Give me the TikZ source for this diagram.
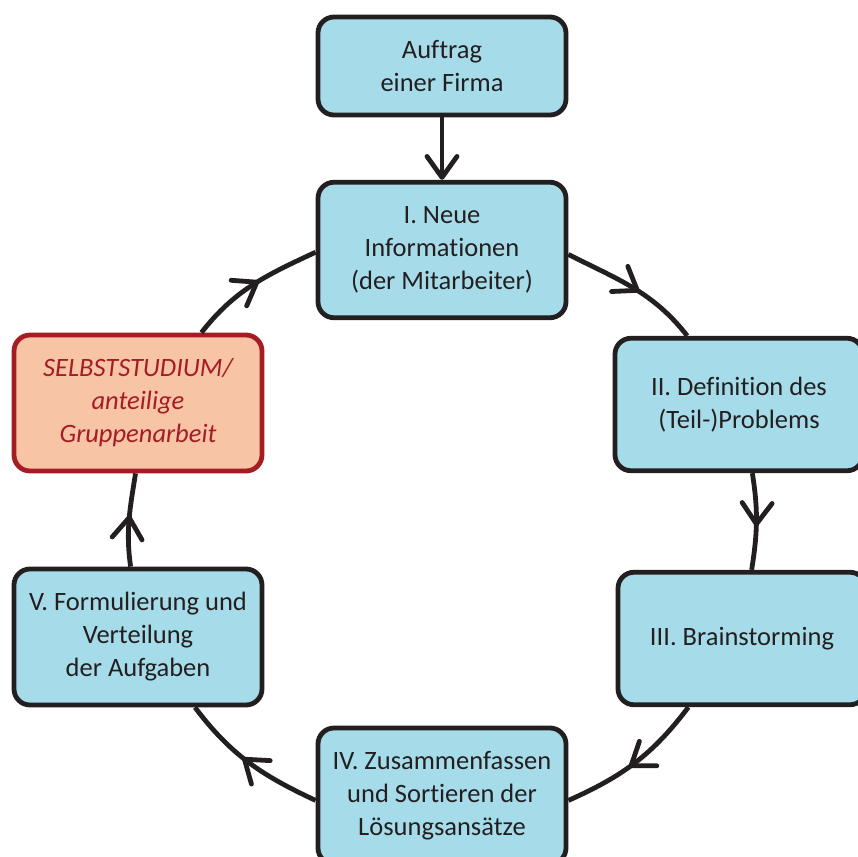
\documentclass[tikz,border=0pt]{standalone}
\usepackage{fontspec}
\setmainfont{Carlito}[Ligatures={NoCommon,NoRequired,NoContextual}]
\usetikzlibrary{arrows.meta,decorations.markings}
\definecolor{boxblue}{RGB}{166,220,233}
\definecolor{salmon}{RGB}{247,196,165}
\definecolor{darkred}{RGB}{165,28,36}
\definecolor{ink}{RGB}{35,31,32}
\tikzset{
  box/.style={draw=ink, fill=boxblue, line width=4.8pt, rounded corners=16pt,
    minimum width=248pt, minimum height=136pt, inner sep=0pt, align=center,
    text=ink, font=\fontsize{26.5}{33}\selectfont},
  redbox/.style={box, draw=darkred, fill=salmon, text=darkred,
    font=\fontsize{26.5}{33}\selectfont\itshape},
  tipv/.tip={Straight Barb[length=21pt, width=30pt, line cap=round, line join=round]},
  conn/.style={draw=ink, line width=4.8pt},
  midarrow/.style={conn, postaction={decorate},
    decoration={markings, mark=at position 0.55 with {\arrow[line width=4.8pt, ink]{tipv}}}}
}
\begin{document}
\begin{tikzpicture}[x=1pt,y=1pt]
\clip (0,0) rectangle (858,-856);
\node[box, minimum height=98pt] (A) at (442,-66) {Auftrag\\einer Firma};
\node[box, minimum height=135.5pt] (I) at (442,-250) {I. Neue\\Informationen\\(der Mitarbeiter)};
\node[box, minimum height=132.5pt] (II) at (739,-404.5) {II. Definition des\\(Teil-)Problems};
\node[box, minimum height=132.5pt] (III) at (742,-638.5) {III. Brainstorming};
\node[box] (IV) at (442,-796) {IV. Zusammenfassen\\und Sortieren der\\Lösungsansätze};
\node[box] (V) at (138,-637) {V. Formulierung und\\Verteilung\\der Aufgaben};
\node[redbox] (S) at (138,-403) {SELBSTSTUDIUM/\\anteilige\\Gruppenarbeit};

\draw[conn, -{tipv}] (A) -- (I);
\draw[midarrow] (I.-2) to[out=-27, in=128] (II.127);
\draw[midarrow] (II.-79) to[out=-81, in=81] (III.82);
\draw[midarrow] (III.-128) to[out=-127, in=24] (IV.-2);
\draw[midarrow] (IV.182) to[out=155, in=-53] (V.-51);
\draw[midarrow] (V.96) to[out=98, in=-99] (S.-92);
\draw[midarrow] (S.48) to[out=52, in=-155] (I.181);
\end{tikzpicture}
\end{document}
